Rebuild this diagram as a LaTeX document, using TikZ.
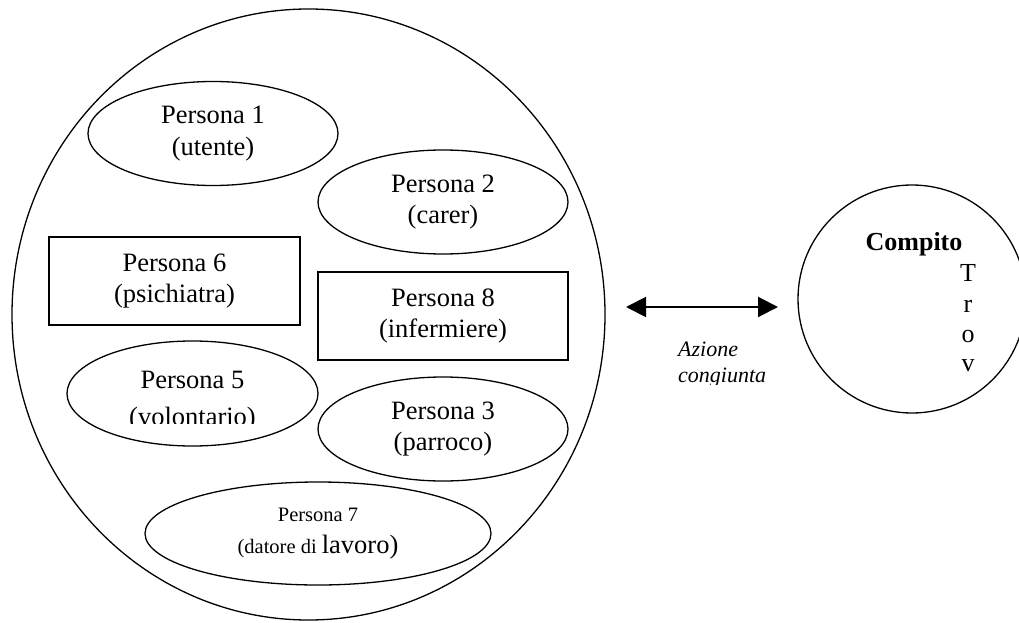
\documentclass[tikz,border=0pt]{standalone}
\usepackage{fontspec}
\setmainfont{Liberation Serif}
\usetikzlibrary{shapes.geometric,arrows.meta}
\begin{document}
\begin{tikzpicture}[x=1pt,y=-1pt,
  shp/.style={draw,line width=1.3pt,inner sep=0pt,align=center,font=\fontsize{26.5}{31.5}\selectfont},
  ell/.style={shp,ellipse},
  box/.style={shp,rectangle},
  txt/.style={inner sep=0pt,align=center,font=\fontsize{26.5}{31.5}\selectfont},
  lbl/.style={inner sep=0pt,anchor=base west,font=\fontsize{22}{27}\selectfont\itshape},
  let/.style={inner sep=0pt,anchor=base,font=\fontsize{26}{30}\selectfont},
  dblarrow/.style={line width=2pt,{Triangle[length=20pt,width=20pt]}-{Triangle[length=20pt,width=20pt]}}]
\useasboundingbox (0,0) rectangle (1019,623);
\clip (0,0) rectangle (1019,623);

% team
\node[ell,minimum width=593pt,minimum height=611pt] (team) at (308.5,314.5) {};

\node[ell,minimum width=250pt,minimum height=104pt] (p1) at (213,133.5) {Persona 1\\(utente)};
\node[ell,minimum width=250pt,minimum height=104pt] (p2) at (443,202) {Persona 2\\(carer)};
\node[box,minimum width=251pt,minimum height=88pt] (p6) at (174.5,281) {Persona 6\\(psichiatra)};
\node[box,minimum width=250pt,minimum height=88pt] (p8) at (443,316) {Persona 8\\(infermiere)};
\node[ell,minimum width=251pt,minimum height=105pt] (p5) at (192.5,393.5) {};
\begin{scope}
  \clip (0,0) rectangle (1019,423);
  \node[txt,anchor=base] (p5a) at (192.5,388) {Persona 5};
  \node[txt,anchor=base] (p5b) at (192.5,425) {(volontario)};
\end{scope}
\node[ell,minimum width=250pt,minimum height=104pt] (p3) at (443,429) {Persona 3\\(parroco)};
\node[ell,minimum width=346pt,minimum height=103pt] (p7) at (318,533.5)
  {\fontsize{20.5}{31}\selectfont Persona 7\\\fontsize{20.5}{31}\selectfont(datore di {\fontsize{26.5}{31}\selectfont lavoro)}};

% task
\node[circle,draw,line width=1.3pt,minimum size=228pt,inner sep=0pt] (task) at (912,299) {};
\node[let,font=\fontsize{26}{30}\selectfont\bfseries] (cmp) at (914,250) {Compito};
\node[let] (l1) at (968,281) {T};
\node[let] (l2) at (968,312) {r};
\node[let] (l3) at (968,342) {o};
\node[let] (l4) at (968,371) {v};

% arrow
\coordinate (al) at (626,307);
\coordinate (ar) at (778,307);
\draw[dblarrow] (al) -- (ar);
\node[lbl] (az1) at (678,356) {Azione};
\begin{scope}
  \clip (0,0) rectangle (1019,384);
  \node[lbl] (az2) at (678,382) {congiunta};
\end{scope}
\end{tikzpicture}
\end{document}
